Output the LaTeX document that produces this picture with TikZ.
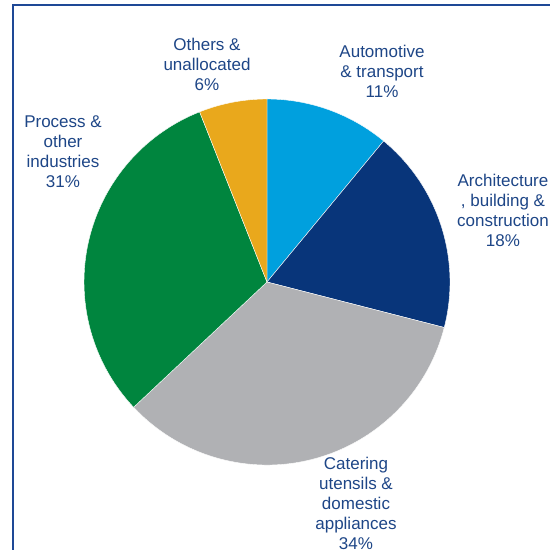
\documentclass[tikz,border=0pt]{standalone}
\usepackage{fontspec}
\setmainfont{Liberation Sans}
\definecolor{autoblue}{RGB}{0,160,222}
\definecolor{archnavy}{RGB}{8,53,122}
\definecolor{catgray}{RGB}{176,177,180}
\definecolor{procgreen}{RGB}{0,133,62}
\definecolor{othorange}{RGB}{233,168,28}
\definecolor{labeltxt}{RGB}{30,70,135}
\definecolor{framecol}{RGB}{30,72,150}
\tikzset{
  lbl/.style={text=labeltxt, align=center, inner sep=0pt, font=\fontsize{17}{20}\selectfont},
  slice/.style={draw=white, line width=0.4pt},
  framefill/.style={fill=framecol}
}
\begin{document}
\begin{tikzpicture}[x=1pt,y=1pt]
\fill[white] (0,0) rectangle (550,550);
\useasboundingbox (0,0) rectangle (550,550);
\coordinate (c) at (267,268);
\def\R{183}
\fill[autoblue, slice] (c) -- ++(90:\R) arc[start angle=90, end angle=50.4, radius=\R] -- cycle;
\fill[archnavy, slice] (c) -- ++(50.4:\R) arc[start angle=50.4, end angle=-14.4, radius=\R] -- cycle;
\fill[catgray, slice] (c) -- ++(-14.4:\R) arc[start angle=-14.4, end angle=-136.8, radius=\R] -- cycle;
\fill[procgreen, slice] (c) -- ++(-136.8:\R) arc[start angle=-136.8, end angle=-248.4, radius=\R] -- cycle;
\fill[othorange, slice] (c) -- ++(111.6:\R) arc[start angle=111.6, end angle=90, radius=\R] -- cycle;
% frame (left and top rules)
\fill[framefill] (11.5,0) rectangle (13.5,546);
\fill[framefill] (11.5,544) rectangle (550,546);
% labels
\node[lbl] (others) at (207,486) {Others \&\\unallocated\\6\%};
\node[lbl] (auto) at (382,479) {Automotive\\\& transport\\11\%};
\node[lbl] (arch) at (503,340) {Architecture\\, building \&\\construction\\18\%};
\node[lbl] (proc) at (63,398) {Process \&\\other\\industries\\31\%};
\node[lbl] (cat) at (356,47) {Catering\\utensils \&\\domestic\\appliances\\34\%};
\end{tikzpicture}
\end{document}
